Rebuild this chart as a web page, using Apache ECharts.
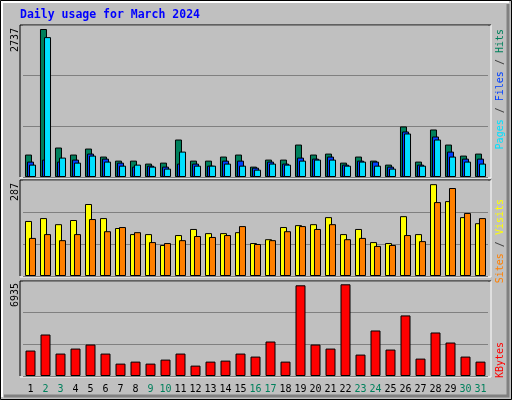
<!DOCTYPE html>
<html>
<head>
<meta charset="utf-8">
<script src="https://cdn.jsdelivr.net/npm/echarts@6/dist/echarts.min.js"></script>
<style>
  html, body { margin: 0; padding: 0; background: #c0c0c0; }
  #chart { width: 512px; height: 400px; }
</style>
</head>
<body>
<div id="chart"></div>
<script>
// Daily usage for March 2024
const days = ['1', '2', '3', '4', '5', '6', '7', '8', '9', '10', '11', '12', '13', '14', '15', '16',
  '17', '18', '19', '20', '21', '22', '23', '24', '25', '26', '27', '28', '29', '30', '31']
const weekendDays = ['2', '3', '9', '10', '16', '17', '23', '24', '30', '31']

const hits = [415, 2737, 545, 415, 526, 378, 303, 303, 248, 266, 693, 303, 303, 378, 415, 192,
  322, 322, 600, 415, 433, 266, 378, 303, 229, 935, 285, 879, 600, 396, 433]
const files = [285, 322, 285, 322, 433, 340, 266, 192, 210, 192, 248, 248, 210, 303, 303, 173,
  285, 248, 359, 340, 378, 229, 303, 285, 192, 842, 229, 749, 470, 340, 340]
const pages = [229, 2587, 359, 266, 396, 285, 210, 229, 192, 155, 470, 210, 210, 248, 210, 136,
  248, 229, 303, 322, 322, 210, 285, 210, 155, 805, 210, 693, 378, 285, 248]

const visits = [172, 181, 162, 175, 225, 181, 150, 131, 131, 97, 128, 147, 134, 134, 137, 103,
  115, 153, 159, 162, 184, 131, 147, 106, 103, 187, 131, 287, 234, 184, 165]
const sites = [119, 131, 112, 131, 178, 140, 153, 137, 106, 103, 112, 125, 122, 128, 156, 100,
  112, 140, 156, 147, 162, 115, 119, 94, 97, 128, 109, 231, 275, 197, 181]

const kbytes = [1924, 3138, 1696, 2075, 2379, 1696, 936, 1088, 936, 1240, 1696, 785, 1088, 1164, 1696, 1468,
  2607, 1088, 6859, 2379, 2075, 6935, 1620, 3442, 2000, 4581, 1316, 3290, 2531, 1468, 1088]

const chart = echarts.init(document.getElementById('chart'))

const MONO = 'DejaVu Sans Mono'
const panels = [
  { top: 25, bottom: 177, max: 2811 },
  { top: 180, bottom: 276, max: 300 },
  { top: 281, bottom: 376, max: 7185 }
]

const grids = panels.map(p => ({ left: 23, width: 465, top: p.top, height: p.bottom - p.top }))
const xAxes = panels.map((p, i) => ({
  type: 'category', gridIndex: i, data: days,
  axisLine: { show: false }, axisTick: { show: false },
  axisLabel: i === 2 ? {
    show: true, interval: 0, margin: 8, fontFamily: MONO, fontSize: 10,
    color: v => weekendDays.includes(v) ? '#00805c' : '#000000'
  } : { show: false }
}))
const yAxes = panels.map((p, i) => ({
  type: 'value', gridIndex: i, min: 0, max: p.max, interval: p.max / 3,
  axisLabel: { show: false }, axisLine: { show: false }, axisTick: { show: false },
  splitLine: { show: true, lineStyle: { color: '#808080', width: 1 } }
}))

const bar = (name, data, color, i, width, gap) => ({
  name, type: 'bar', data, xAxisIndex: i, yAxisIndex: i,
  barWidth: width, barGap: gap, animation: false,
  itemStyle: { color, borderColor: '#000000', borderWidth: 1 }
})

// panel frames: dark on top/left, white on bottom/right
const frames = []
panels.forEach(p => {
  frames.push({ type: 'line', shape: { x1: 20, y1: p.top, x2: 491, y2: p.top }, style: { stroke: '#000', lineWidth: 1 } })
  frames.push({ type: 'line', shape: { x1: 20, y1: p.top, x2: 20, y2: p.bottom }, style: { stroke: '#000', lineWidth: 1 } })
  frames.push({ type: 'line', shape: { x1: 20, y1: p.bottom + 1, x2: 491, y2: p.bottom + 1 }, style: { stroke: '#fff', lineWidth: 1 } })
  frames.push({ type: 'line', shape: { x1: 491, y1: p.top, x2: 491, y2: p.bottom + 1 }, style: { stroke: '#fff', lineWidth: 1 } })
})

const vText = (x, y, text, rich, fill) => ({
  type: 'text', x, y, rotation: Math.PI / 2, z: 10,
  style: { text, rich, fill: fill || '#000', font: '10px ' + MONO, align: 'right', verticalAlign: 'middle' }
})
const richFont = c => ({ fill: c, font: '10px ' + MONO })

chart.setOption({
  backgroundColor: '#c0c0c0',
  animation: false,
  grid: grids,
  xAxis: xAxes,
  yAxis: yAxes,
  series: [
    bar('Hits', hits, '#00805c', 0, 7, '-71%'),
    bar('Files', files, '#0040ff', 0, 7, '-71%'),
    bar('Pages', pages, '#00e0ff', 0, 7, '-71%'),
    bar('Visits', visits, '#ffff00', 1, 7, '-43%'),
    bar('Sites', sites, '#ff8000', 1, 7, '-43%'),
    bar('KBytes', kbytes, '#ff0000', 2, 10, '0%')
  ],
  graphic: [
    // outer bevel
    { type: 'rect', shape: { x: 0.5, y: 0.5, width: 511, height: 399 }, style: { fill: null, stroke: '#000', lineWidth: 1 } },
    { type: 'polyline', shape: { points: [[2, 397], [2, 2], [509, 2]] }, style: { fill: null, stroke: '#fff', lineWidth: 2 } },
    { type: 'polyline', shape: { points: [[4, 396], [508, 396], [508, 4]] }, style: { fill: null, stroke: '#808080', lineWidth: 3 } },
    {
      type: 'text', x: 20, y: 15,
      style: { text: 'Daily usage for March 2024', fill: '#0000ff', font: 'bold 11.5px ' + MONO, verticalAlign: 'middle' }
    },
    ...frames,
    vText(15, 28, '2737'),
    vText(15, 183, '287'),
    vText(15, 283, '6935'),
    vText(500, 29, '{p|Pages}{s| / }{f|Files}{s| / }{h|Hits}',
      { p: richFont('#00e0ff'), f: richFont('#0040ff'), h: richFont('#00805c'), s: richFont('#404040') }),
    vText(500, 199, '{a|Sites}{s| / }{b|Visits}',
      { a: richFont('#ff8000'), b: richFont('#ffff00'), s: richFont('#404040') }),
    vText(500, 342, '{k|KBytes}', { k: richFont('#ff0000') })
  ]
})
</script>
</body>
</html>
